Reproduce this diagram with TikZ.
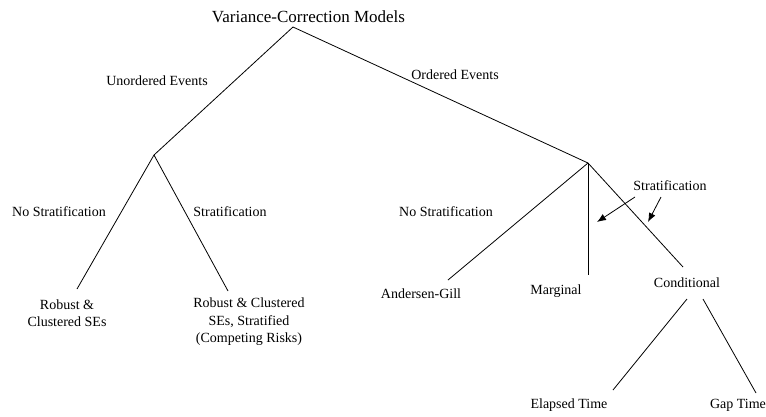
\documentclass[tikz,border=0pt]{standalone}
\usepackage{fontspec}
\setmainfont{Liberation Serif}
\usetikzlibrary{arrows.meta}
\begin{document}
\begin{tikzpicture}[x=1pt,y=-1pt,
  lbl/.style={inner sep=0pt,font=\fontsize{14}{17.5}\selectfont,align=center},
  ttl/.style={inner sep=0pt,font=\fontsize{17}{20}\selectfont},
  edge/.style={line width=0.8pt},
  arr/.style={line width=0.8pt,-{Latex[length=9pt,width=7pt]}}]
\useasboundingbox (0,0) rectangle (766,416);
% text nodes
\node[ttl] (title) at (308.5,17) {Variance-Correction Models};
\node[lbl] (unord) at (157,81) {Unordered Events};
\node[lbl] (ord) at (455,75) {Ordered Events};
\node[lbl] (nsl) at (59,212) {No Stratification};
\node[lbl] (sl) at (230,212) {Stratification};
\node[lbl] (rc) at (67,313) {Robust \&\\Clustered SEs};
\node[lbl] (rcs) at (249,322) {Robust \& Clustered\\SEs, Stratified\\(Competing Risks)};
\node[lbl] (nsr) at (446,212) {No Stratification};
\node[lbl] (sr) at (670,186) {Stratification};
\node[lbl] (ag) at (421,294) {Andersen-Gill};
\node[lbl] (marg) at (556,291) {Marginal};
\node[lbl] (cond) at (687,283) {Conditional};
\node[lbl] (el) at (569,405) {Elapsed Time};
\node[lbl] (gap) at (738,405) {Gap Time};
% junction coordinates
\coordinate (top) at (293,27);
\coordinate (jl) at (154,155);
\coordinate (jr) at (588,163);
\coordinate (rcE) at (77,289);
\coordinate (rcsE) at (228,291);
\coordinate (agE) at (448,280);
\coordinate (margE) at (588,275);
\coordinate (condE) at (683,267);
\coordinate (condL) at (687,299);
\coordinate (condR) at (703,299);
\coordinate (elE) at (613,390);
\coordinate (gapE) at (756,393);
\coordinate (a1s) at (635,197);
\coordinate (a1e) at (597,222);
\coordinate (a2s) at (661,197);
\coordinate (a2e) at (648,222);
% connectors
\draw[edge] (top) -- (jl);
\draw[edge] (top) -- (jr);
\draw[edge] (jl) -- (rcE);
\draw[edge] (jl) -- (rcsE);
\draw[edge] (jr) -- (agE);
\draw[edge] (jr) -- (margE);
\draw[edge] (jr) -- (condE);
\draw[edge] (condL) -- (elE);
\draw[edge] (condR) -- (gapE);
\draw[arr] (a1s) -- (a1e);
\draw[arr] (a2s) -- (a2e);
\end{tikzpicture}
\end{document}
